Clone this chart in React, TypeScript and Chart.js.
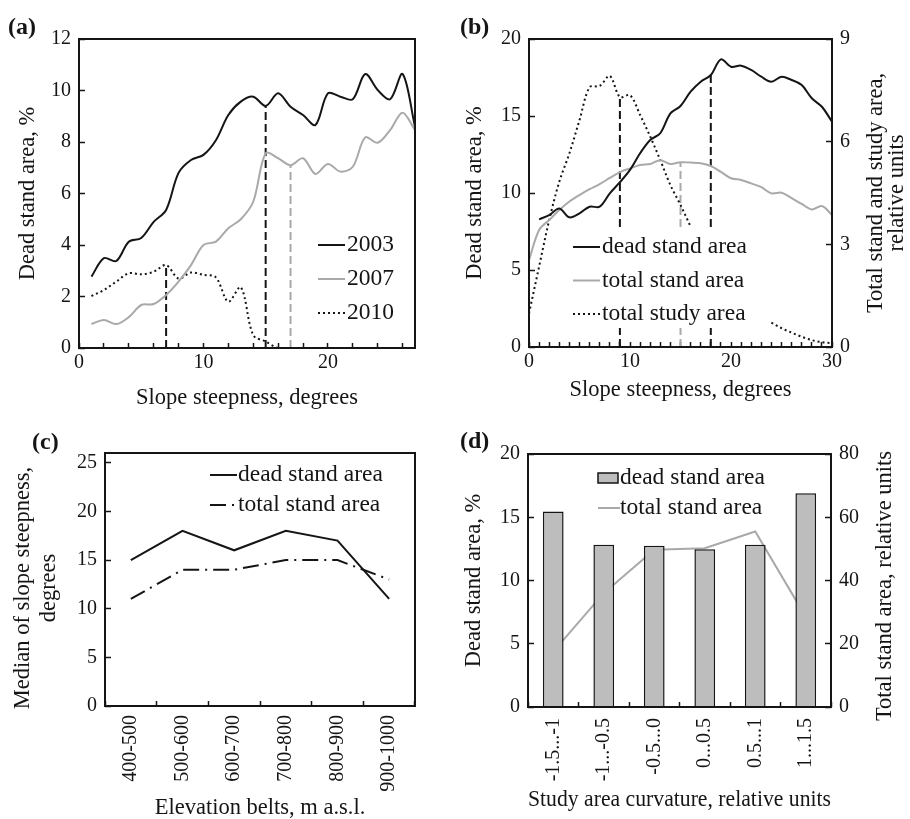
import React, { useEffect, useRef } from 'react';
import { Chart, registerables } from 'chart.js';

Chart.register(...registerables);

const FONT = "'Liberation Serif', 'Times New Roman', Times, serif";
const INK = '#151515';
const LINE_GREY = '#a9a9a9';
const BAR_GREY = '#bdbdbd';

// ---------- panel (a): dead stand area vs slope, by year ----------
const aSlope = [1, 2, 3, 4, 5, 6, 7, 8, 9, 10, 11, 12, 13, 14, 15, 16, 17, 18, 19, 20, 21, 22, 23, 24, 25, 26, 27];
const a2003 = [2.77, 3.49, 3.38, 4.13, 4.27, 4.9, 5.36, 6.8, 7.3, 7.5, 8.07, 9.05, 9.57, 9.76, 9.4, 9.89, 9.37, 9.05, 8.66, 9.89, 9.76, 9.66, 10.64, 10.02, 9.66, 10.64, 8.6];
const a2007 = [0.93, 1.09, 0.93, 1.2, 1.67, 1.71, 2.06, 2.58, 3.22, 4.0, 4.13, 4.65, 5.0, 5.68, 7.56, 7.37, 7.1, 7.37, 6.76, 7.15, 6.85, 7.04, 8.18, 7.97, 8.46, 9.14, 8.46];
const a2010 = [2.02, 2.25, 2.58, 2.9, 2.86, 2.96, 3.22, 2.7, 2.93, 2.84, 2.74, 1.8, 2.36, 0.5, 0.25, 0, 0, 0, 0, 0, 0, 0, 0, 0, 0, 0, 0];
const aMedian2003 = 15;
const aMedian2007 = 17;
const aMedian2010 = 7;
const aXTicks = [0, 2, 4, 6, 8, 10, 12, 14, 16, 18, 20, 22, 24, 26];
const aYTicks = [0, 2, 4, 6, 8, 10, 12];

// ---------- panel (b): dead / total stand / total study area vs slope ----------
const bSlope = [0, 1, 2, 3, 4, 5, 6, 7, 8, 9, 10, 11, 12, 13, 14, 15, 16, 17, 18, 19, 20, 21, 22, 23, 24, 25, 26, 27, 28, 29, 30];
const bDead = [null, 8.29, 8.57, 9.0, 8.42, 8.68, 9.11, 9.11, 9.98, 10.7, 11.5, 12.58, 13.44, 13.88, 15.17, 15.65, 16.58, 17.23, 17.66, 18.68, 18.2, 18.27, 17.99, 17.55, 17.23, 17.55, 17.34, 17.01, 16.15, 15.6, 14.63];
const bStand = [2.54, 3.42, 3.71, 4.0, 4.25, 4.44, 4.61, 4.76, 4.94, 5.11, 5.22, 5.32, 5.35, 5.46, 5.35, 5.4, 5.39, 5.37, 5.29, 5.12, 4.93, 4.88, 4.78, 4.67, 4.49, 4.51, 4.35, 4.18, 4.02, 4.12, 3.86];
const bStudy = [0.98, 2.35, 3.71, 4.83, 5.66, 6.63, 7.59, 7.63, 7.92, 7.3, 7.36, 6.78, 6.15, 5.46, 4.73, 4.15, 3.52, null, null, null, null, null, null, null, 0.71, 0.55, 0.42, 0.3, 0.2, 0.14, 0.11];
const bMedianDead = 18;
const bMedianStand = 15;
const bMedianStudy = 9;
const bXTicks = [0, 1, 2, 3, 4, 5, 6, 7, 8, 9, 10, 11, 12, 13, 14, 15, 16, 17, 18, 19, 20, 21, 22, 23, 24, 25, 26, 27, 28, 29, 30];
const bYTicks = [0, 5, 10, 15, 20];
const bY1Ticks = [0, 3, 6, 9];

// ---------- panel (c): median slope by elevation belt ----------
const cBelts = ['400-500', '500-600', '600-700', '700-800', '800-900', '900-1000'];
const cDead = [15, 18, 16, 18, 17, 11];
const cTotal = [11, 14, 14, 15, 15, 13];
const cYTicks = [0, 5, 10, 15, 20, 25];

// ---------- panel (d): curvature ----------
const dCurvature = ['-1.5...-1', '-1...-0.5', '-0.5...0', '0...0.5', '0.5...1', '1...1.5'];
const dDead = [15.46, 12.82, 12.74, 12.48, 12.82, 16.89];
const dTotal = [17.5, 36, 49.7, 50.2, 55.5, 28.5];
const dYTicks = [0, 5, 10, 15, 20];
const dY1Ticks = [0, 20, 40, 60, 80];

// ---------- helpers ----------
const pts = (xs: number[], ys: (number | null)[]) => xs.map((x, i) => ({ x, y: ys[i] }));
const valueAt = (xs: number[], ys: (number | null)[], x: number) => ys[xs.indexOf(x)] as number;
const vline = (x: number, top: number) => [{ x, y: 0 }, { x, y: top }];

const DOT = [2, 3];
const DASH = [8, 4];
const DASH_DOT = [16, 6, 2, 6];

const TITLE_SIZE = 22.5;
const tickFont = { family: FONT, size: 20 };
const titleFont = { family: FONT, size: TITLE_SIZE, lineHeight: 1 };

const fixedTicks = (values: number[]) => (scale: any) => {
  scale.ticks = values.map((value) => ({ value }));
};
const fixWidth = (w: number) => (scale: any) => {
  scale.width = w;
};
const fixHeight = (h: number) => (scale: any) => {
  scale.height = h;
};
const tenLabels = (v: any) => (Number(v) % 10 === 0 ? String(v) : '');

const axisGrid = (len: number, offset = false) => ({
  display: true,
  drawOnChartArea: false,
  drawTicks: true,
  tickLength: -len,
  tickWidth: 1.5,
  tickColor: INK,
  color: INK,
  offset,
});

const curve = (label: string, data: any, color: string, dash: number[] = [], extra: any = {}) => ({
  label,
  data,
  borderColor: color,
  backgroundColor: color,
  borderWidth: 2,
  borderDash: dash,
  pointRadius: 0,
  tension: 0.33,
  fill: false,
  ...extra,
});

const median = (label: string, x: number, top: number, color: string, extra: any = {}) => ({
  label,
  data: vline(x, top),
  borderColor: color,
  borderWidth: 2,
  borderDash: DASH,
  pointRadius: 0,
  tension: 0,
  fill: false,
  ...extra,
});

// ---------- decoration plugin: frame, panel label, legend, rotated titles ----------
function drawLegend(chart: any, lg: any) {
  const ctx = chart.ctx;
  ctx.save();
  if (lg.cover) {
    ctx.fillStyle = '#ffffff';
    ctx.fillRect(lg.cover.x, lg.cover.y, lg.cover.w, lg.cover.h);
  }
  ctx.font = `${lg.size}px ${FONT}`;
  ctx.textAlign = 'left';
  ctx.textBaseline = 'middle';
  lg.datasets.forEach((idx: number, i: number) => {
    const ds = chart.data.datasets[idx];
    const y = lg.y + i * lg.gap;
    const isBar = (ds.type || chart.config.type) === 'bar';
    if (isBar) {
      ctx.fillStyle = ds.backgroundColor;
      ctx.fillRect(lg.x, y - 5, lg.box, 10);
      ctx.strokeStyle = ds.borderColor;
      ctx.lineWidth = 1.5;
      ctx.setLineDash([]);
      ctx.strokeRect(lg.x, y - 5, lg.box, 10);
    } else {
      ctx.strokeStyle = ds.borderColor;
      ctx.lineWidth = 2;
      ctx.setLineDash(ds.borderDash || []);
      ctx.beginPath();
      ctx.moveTo(lg.x, y);
      ctx.lineTo(lg.x + lg.sample, y);
      ctx.stroke();
    }
    ctx.fillStyle = INK;
    ctx.fillText(ds.label, lg.textX, y);
  });
  ctx.restore();
}

const decorPlugin = {
  id: 'decor',
  afterDatasetsDraw(chart: any, _args: any, opts: any) {
    const ctx = chart.ctx;
    if (opts.legend) drawLegend(chart, opts.legend);
    const { left, top, right, bottom } = chart.chartArea;
    ctx.save();
    ctx.strokeStyle = INK;
    ctx.lineWidth = 2;
    ctx.setLineDash([]);
    ctx.strokeRect(left, top, right - left, bottom - top);
    ctx.restore();
  },
  afterDraw(chart: any, _args: any, opts: any) {
    const ctx = chart.ctx;
    ctx.save();
    ctx.fillStyle = INK;
    ctx.font = `bold 24px ${FONT}`;
    ctx.textAlign = 'left';
    ctx.textBaseline = 'middle';
    ctx.fillText(opts.panel, opts.panelX, opts.panelY);
    ctx.restore();
    (opts.titles || []).forEach((t: any) => {
      ctx.save();
      ctx.translate(t.x, t.y);
      ctx.rotate(-Math.PI / 2);
      ctx.font = `${TITLE_SIZE}px ${FONT}`;
      ctx.fillStyle = INK;
      ctx.textAlign = 'center';
      ctx.textBaseline = 'middle';
      t.lines.forEach((line: string, i: number) => ctx.fillText(line, 0, i * t.gap));
      ctx.restore();
    });
  },
};

const baseOptions = {
  responsive: false,
  maintainAspectRatio: false,
  animation: false,
  devicePixelRatio: 1,
  events: [],
};

const basePlugins = { legend: { display: false }, tooltip: { enabled: false } };

// ---------- chart configs ----------
function makeA(): any {
  return {
    type: 'line',
    data: {
      datasets: [
        curve('2003', pts(aSlope, a2003), INK),
        curve('2007', pts(aSlope, a2007), LINE_GREY),
        curve('2010', pts(aSlope, a2010), INK, DOT),
        median('median 2010', aMedian2010, valueAt(aSlope, a2010, aMedian2010), INK),
        median('median 2003', aMedian2003, valueAt(aSlope, a2003, aMedian2003), INK),
        median('median 2007', aMedian2007, valueAt(aSlope, a2007, aMedian2007), LINE_GREY),
      ],
    },
    options: {
      ...baseOptions,
      layout: { autoPadding: false, padding: { left: 0, top: 39, right: 40, bottom: 0 } },
      scales: {
        x: {
          type: 'linear',
          min: 0,
          max: 27,
          afterBuildTicks: fixedTicks(aXTicks),
          afterFit: fixHeight(62),
          grid: axisGrid(5),
          border: { display: false },
          ticks: { font: tickFont, color: INK, padding: 8, autoSkip: false, maxRotation: 0, callback: tenLabels },
          title: { display: true, text: 'Slope steepness, degrees', font: titleFont, color: INK, padding: { top: 0, bottom: 1 } },
        },
        y: {
          type: 'linear',
          min: 0,
          max: 12,
          afterBuildTicks: fixedTicks(aYTicks),
          afterFit: fixWidth(79),
          grid: axisGrid(6),
          border: { display: false },
          ticks: { font: tickFont, color: INK, padding: 14 },
          title: { display: true, text: 'Dead stand area, %', font: titleFont, color: INK, padding: { top: 17, bottom: 0 } },
        },
      },
      plugins: {
        ...basePlugins,
        decor: {
          panel: '(a)',
          panelX: 8,
          panelY: 28,
          legend: { datasets: [0, 1, 2], x: 318, sample: 27, textX: 347, y: 245, gap: 34, size: 23.5 },
        },
      },
    },
    plugins: [decorPlugin],
  };
}

function makeB(): any {
  return {
    type: 'line',
    data: {
      datasets: [
        curve('dead stand area', pts(bSlope, bDead), INK, [], { yAxisID: 'y' }),
        curve('total stand area', pts(bSlope, bStand), LINE_GREY, [], { yAxisID: 'y1' }),
        curve('total study area', pts(bSlope, bStudy), INK, DOT, { yAxisID: 'y1' }),
        median('median study', bMedianStudy, valueAt(bSlope, bStudy, bMedianStudy), INK, { yAxisID: 'y1' }),
        median('median stand', bMedianStand, valueAt(bSlope, bStand, bMedianStand), LINE_GREY, { yAxisID: 'y1' }),
        median('median dead', bMedianDead, valueAt(bSlope, bDead, bMedianDead), INK, { yAxisID: 'y' }),
      ],
    },
    options: {
      ...baseOptions,
      layout: { autoPadding: false, padding: { left: 0, top: 39, right: 0, bottom: 0 } },
      scales: {
        x: {
          type: 'linear',
          min: 0,
          max: 30,
          afterBuildTicks: fixedTicks(bXTicks),
          afterFit: fixHeight(63),
          grid: axisGrid(5),
          border: { display: false },
          ticks: { font: tickFont, color: INK, padding: 8, autoSkip: false, maxRotation: 0, callback: tenLabels },
          title: { display: true, text: 'Slope steepness, degrees', font: titleFont, color: INK, padding: { top: 0, bottom: 9 } },
        },
        y: {
          type: 'linear',
          position: 'left',
          min: 0,
          max: 20,
          afterBuildTicks: fixedTicks(bYTicks),
          afterFit: fixWidth(74),
          grid: axisGrid(6),
          border: { display: false },
          ticks: { font: tickFont, color: INK, padding: 14 },
          title: { display: true, text: 'Dead stand area, %', font: titleFont, color: INK, padding: { top: 9, bottom: 0 } },
        },
        y1: {
          type: 'linear',
          position: 'right',
          min: 0,
          max: 9,
          afterBuildTicks: fixedTicks(bY1Ticks),
          afterFit: fixWidth(78),
          grid: axisGrid(6),
          border: { display: false },
          ticks: { font: tickFont, color: INK, padding: 14 },
        },
      },
      plugins: {
        ...basePlugins,
        decor: {
          panel: '(b)',
          panelX: 5,
          panelY: 28,
          legend: {
            datasets: [0, 1, 2],
            x: 118,
            sample: 27,
            textX: 147,
            y: 247,
            gap: 33.5,
            size: 23.5,
            cover: { x: 110, y: 228, w: 205, h: 100 },
          },
          titles: [{ lines: ['Total stand and study area,', 'relative units'], x: 421, y: 193, gap: 21 }],
        },
      },
    },
    plugins: [decorPlugin],
  };
}

function makeC(): any {
  return {
    type: 'line',
    data: {
      labels: cBelts,
      datasets: [
        curve('dead stand area', cDead, INK, [], { tension: 0 }),
        curve('total stand area', cTotal, INK, DASH_DOT, { tension: 0 }),
      ],
    },
    options: {
      ...baseOptions,
      layout: { autoPadding: false, padding: { left: 0, top: 43, right: 40, bottom: 0 } },
      scales: {
        x: {
          type: 'category',
          offset: true,
          afterFit: fixHeight(113),
          grid: axisGrid(5, true),
          border: { display: false },
          ticks: { font: tickFont, color: INK, padding: 14, autoSkip: false, minRotation: 90, maxRotation: 90 },
          title: { display: true, text: 'Elevation belts, m a.s.l.', font: titleFont, color: INK, padding: { top: 0, bottom: 0 } },
        },
        y: {
          type: 'linear',
          min: 0,
          max: 26,
          afterBuildTicks: fixedTicks(cYTicks),
          afterFit: fixWidth(105),
          grid: axisGrid(6),
          border: { display: false },
          ticks: { font: tickFont, color: INK, padding: 14 },
        },
      },
      plugins: {
        ...basePlugins,
        decor: {
          panel: '(c)',
          panelX: 32,
          panelY: 33,
          legend: { datasets: [0, 1], x: 210, sample: 27, textX: 238, y: 65, gap: 30, size: 23.5 },
          titles: [{ lines: ['Median of slope steepness,', 'degrees'], x: 23, y: 178, gap: 26 }],
        },
      },
    },
    plugins: [decorPlugin],
  };
}

function makeD(): any {
  return {
    type: 'bar',
    data: {
      labels: dCurvature,
      datasets: [
        {
          type: 'bar',
          label: 'dead stand area',
          data: dDead,
          yAxisID: 'y',
          backgroundColor: BAR_GREY,
          borderColor: INK,
          borderWidth: 1.5,
          borderSkipped: 'bottom',
          barPercentage: 0.41,
          categoryPercentage: 1,
          order: 1,
        },
        {
          type: 'line',
          label: 'total stand area',
          data: dTotal,
          yAxisID: 'y1',
          borderColor: LINE_GREY,
          backgroundColor: LINE_GREY,
          borderWidth: 2,
          pointRadius: 0,
          tension: 0,
          order: 2,
        },
      ],
    },
    options: {
      ...baseOptions,
      layout: { autoPadding: false, padding: { left: 0, top: 44, right: 0, bottom: 0 } },
      scales: {
        x: {
          type: 'category',
          offset: true,
          afterFit: fixHeight(112),
          grid: axisGrid(5, true),
          border: { display: false },
          ticks: { font: tickFont, color: INK, padding: 16, autoSkip: false, minRotation: 90, maxRotation: 90 },
          title: { display: true, text: 'Study area curvature, relative units', font: titleFont, color: INK, padding: { top: 0, bottom: 8 } },
        },
        y: {
          type: 'linear',
          position: 'left',
          min: 0,
          max: 20,
          afterBuildTicks: fixedTicks(dYTicks),
          afterFit: fixWidth(73),
          grid: axisGrid(6),
          border: { display: false },
          ticks: { font: tickFont, color: INK, padding: 14 },
          title: { display: true, text: 'Dead stand area, %', font: titleFont, color: INK, padding: { top: 8, bottom: 0 } },
        },
        y1: {
          type: 'linear',
          position: 'right',
          min: 0,
          max: 80,
          afterBuildTicks: fixedTicks(dY1Ticks),
          afterFit: fixWidth(79),
          grid: axisGrid(6),
          border: { display: false },
          ticks: { font: tickFont, color: INK, padding: 14 },
        },
      },
      plugins: {
        ...basePlugins,
        decor: {
          panel: '(d)',
          panelX: 5,
          panelY: 32,
          legend: { datasets: [0, 1], x: 143, sample: 22, box: 20, textX: 165, y: 68, gap: 30, size: 23.5 },
          titles: [{ lines: ['Total stand area, relative units'], x: 430, y: 176, gap: 21 }],
        },
      },
    },
    plugins: [decorPlugin],
  };
}

function PanelChart({ make, left, top, width, height }: { make: () => any; left: number; top: number; width: number; height: number }) {
  const ref = useRef<HTMLCanvasElement>(null);
  useEffect(() => {
    const chart = new Chart(ref.current as HTMLCanvasElement, make());
    return () => chart.destroy();
  }, [make]);
  return (
    <canvas
      ref={ref}
      width={width}
      height={height}
      style={{ position: 'absolute', left, top, width, height, display: 'block' }}
    />
  );
}

export default function App() {
  return (
    <div style={{ position: 'absolute', left: 0, top: 0, width: 910, height: 819, background: '#ffffff', overflow: 'hidden' }}>
      <PanelChart make={makeA} left={0} top={0} width={455} height={410} />
      <PanelChart make={makeB} left={455} top={0} width={455} height={410} />
      <PanelChart make={makeC} left={0} top={410} width={455} height={409} />
      <PanelChart make={makeD} left={455} top={410} width={455} height={409} />
    </div>
  );
}
